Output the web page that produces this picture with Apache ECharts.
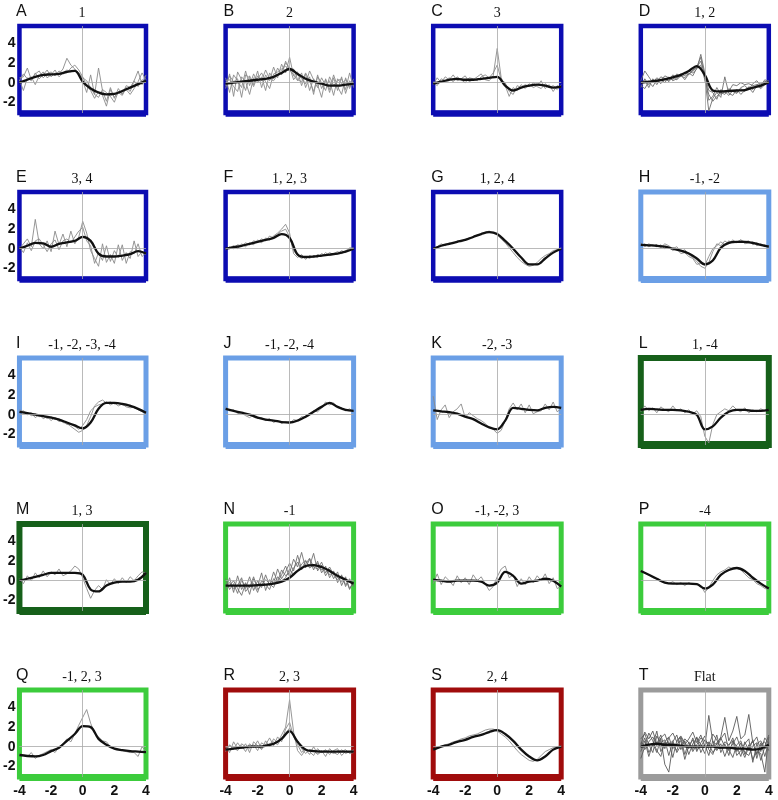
<!DOCTYPE html>
<html><head><meta charset="utf-8">
<script src="https://cdn.jsdelivr.net/npm/echarts@6/dist/echarts.min.js"></script>
<style>html,body{margin:0;padding:0;background:#fff}#chart{width:778px;height:800px}</style>
</head><body><div id="chart"></div>
<script>
// sample positions
const xHalf = [-4,-3.5,-3,-2.5,-2,-1.5,-1,-0.5,0,0.5,1,1.5,2,2.5,3,3.5,4];
const xQuarter = [-4,-3.75,-3.5,-3.25,-3,-2.75,-2.5,-2.25,-2,-1.75,-1.5,-1.25,-1,-0.75,-0.5,-0.25,0,0.25,0.5,0.75,1,1.25,1.5,1.75,2,2.25,2.5,2.75,3,3.25,3.5,3.75,4];
const xTickLabels = [-4,-2,0,2,4];
const yTickLabels = [-2,0,2,4];
const panelLetters = ['A','B','C','D','E','F','G','H','I','J','K','L','M','N','O','P','Q','R','S','T'];
const panelTitles = ['1','2','3','1, 2','3, 4','1, 2, 3','1, 2, 4','-1, -2','-1, -2, -3, -4','-1, -2, -4','-2, -3','1, -4','1, 3','-1','-1, -2, 3','-4','-1, 2, 3','2, 3','2, 4','Flat'];

// mean (thick) curves
const smoothA = [0,0.3,0.6,0.8,0.85,0.9,1.1,1.2,0.1,-0.6,-1.0,-1.2,-1.15,-0.85,-0.5,-0.15,0.2];
const smoothB = [-0.1,0,0.1,0.2,0.3,0.4,0.6,1.0,1.4,0.9,0.4,0.1,-0.1,-0.3,-0.3,-0.2,-0.1];
const smoothC = [-0.1,0.1,0.3,0.4,0.3,0.3,0.4,0.5,0.6,-0.3,-0.8,-0.5,-0.3,-0.2,-0.3,-0.5,-0.4];
const smoothD = [0,0.1,0.2,0.35,0.55,0.8,1.2,1.7,0.8,-0.8,-0.9,-0.85,-0.8,-0.75,-0.5,-0.3,0.05];
const smoothE = [0,0.3,0.6,0.55,0.2,0.5,0.65,0.8,1.2,0.8,-0.5,-0.8,-0.8,-0.7,-0.55,-0.25,-0.5];
const smoothF = [0,0.15,0.3,0.5,0.7,0.9,1.1,1.5,1.1,-0.6,-0.85,-0.8,-0.7,-0.6,-0.5,-0.3,0];
const smoothG = [0,0.3,0.5,0.7,0.9,1.2,1.5,1.7,1.5,0.8,0,-0.9,-1.6,-1.6,-1.0,-0.4,0];
const smoothH = [0.4,0.35,0.3,0.2,0,-0.2,-0.5,-1.0,-1.6,-1.2,0.1,0.6,0.7,0.7,0.6,0.4,0.2];
const smoothI = [0.3,0.15,0,-0.15,-0.3,-0.5,-0.8,-1.1,-1.4,-0.8,0.6,1.2,1.2,1.1,0.9,0.6,0.2];
const smoothJ = [0.6,0.4,0.2,0,-0.3,-0.5,-0.6,-0.75,-0.8,-0.6,-0.2,0.3,0.8,1.2,0.8,0.5,0.4];
const smoothK = [0.45,0.35,0.25,0.1,-0.2,-0.45,-0.9,-1.3,-1.5,-0.6,0.7,0.6,0.5,0.45,0.7,0.8,0.7];
const smoothL = [0.5,0.6,0.55,0.5,0.5,0.45,0.3,0.0,-1.5,-1.2,-0.3,0.3,0.5,0.5,0.4,0.4,0.5];
const smoothM = [0,0.2,0.4,0.6,0.8,0.8,0.8,0.8,0.6,-0.9,-1.1,-0.5,-0.2,-0.1,-0.1,0.1,0.8];
const smoothN = [-0.5,-0.5,-0.5,-0.5,-0.45,-0.4,-0.3,-0.1,0.3,1.0,1.5,1.6,1.4,1.0,0.5,0.1,-0.3];
const smoothO = [0.1,0,-0.1,0,0,0,-0.1,-0.5,-0.2,0.9,0.5,-0.3,-0.1,0,0.2,0,-0.6];
const smoothP = [1.0,0.6,0.2,-0.2,-0.3,-0.3,-0.3,-0.35,-0.8,-0.4,0.6,1.1,1.3,1.0,0.3,-0.3,-0.8];
const smoothQ = [-0.85,-0.95,-1.0,-0.85,-0.45,-0.1,0.6,1.3,2.1,2.0,0.8,0.2,-0.2,-0.35,-0.45,-0.5,-0.55];
const smoothR = [-0.3,-0.2,-0.1,0,0,0.1,0.3,0.8,1.6,0.5,-0.3,-0.45,-0.5,-0.5,-0.5,-0.5,-0.5];
const smoothS = [-0.3,0,0.2,0.5,0.7,1.0,1.2,1.5,1.7,1.3,0.6,-0.3,-1.0,-1.4,-1.0,-0.3,0];
const smoothT = [0,0.2,0.3,0.2,0.2,0.1,0,0,0,0,-0.1,-0.1,-0.2,-0.2,-0.3,-0.2,0.2];

// individual (thin) traces
const tracesA = [
 [0.3,-0.8,0.5,0.2,1.0,0.4,0.8,1.3,0.6,1.0,0.9,1.4,2.5,1.8,1.4,1.0,0.2,-1.0,0.8,-1.2,1.5,-0.8,-1.9,-0.5,-1.6,-0.6,-1.2,-0.3,-0.5,0.2,1.2,-0.2,0.8],
 [0.5,0.6,1.5,0.3,0.9,1.2,0.5,0.9,1.1,0.7,1.2,0.9,1.0,1.5,1.8,1.3,0.6,-0.3,-0.8,-1.6,-0.9,-1.3,-2.4,-0.7,-1.5,-1.0,-1.3,-0.5,-0.9,0.2,-0.4,0.3,0.1],
 [0.2,0.9,0.4,0.6,-0.2,0.7,1.1,0.5,0.8,1.3,0.6,1.0,1.3,1.1,1.3,1.0,0.5,0.2,-0.5,-1.2,-1.5,-0.7,-1.0,-1.4,-2.0,-0.9,-1.1,-0.7,-1.2,-0.6,0.1,1.0,0.3]];
const tracesB = [
 [0.5,-1.0,0.8,0.2,-0.5,1.2,-0.3,0.9,0.0,0.6,-0.8,1.0,0.4,1.5,0.8,2.2,1.3,0.8,0.2,1.0,-0.5,0.6,-1.2,0.8,-0.6,0.3,-1.0,0.5,-0.8,0.6,-1.1,0.2,-0.3],
 [-0.6,0.9,-1.4,1.1,0.3,-0.8,0.7,-0.2,1.2,-0.5,0.8,0.2,1.6,0.5,1.9,1.0,2.6,0.7,1.1,-0.3,0.9,-0.8,0.4,-0.2,-1.5,0.4,-0.7,0.8,-0.4,-1.2,0.5,-0.6,0.4],
 [0.2,0.3,-0.4,-0.9,0.6,0.1,-1.2,0.5,0.4,1.0,0.1,-0.6,0.9,1.1,1.4,1.7,1.2,1.4,0.3,0.1,1.0,0.2,-0.9,0.6,0.0,-0.8,0.6,-0.3,0.2,0.4,-0.7,1.0,-0.5],
 [-0.3,0.7,0.1,0.4,-1.5,0.8,0.5,-0.4,0.7,0.2,1.3,0.4,0.2,0.8,1.2,2.0,1.6,0.3,0.9,0.4,-0.1,1.2,0.3,-0.5,0.5,-0.3,0.2,-1.3,0.4,-0.1,0.3,-0.4,0.1]];
const tracesC = [
 [-0.2,0.5,0.0,0.6,0.3,0.8,0.2,0.4,0.7,0.1,0.3,0.6,0.9,0.3,0.2,0.7,3.5,0.5,-0.3,-1.4,-0.5,-0.8,-0.2,-0.6,-0.1,-0.5,-0.3,0.2,-0.6,-0.2,-0.9,-0.3,-0.5],
 [0.1,-0.3,0.4,0.2,0.5,0.1,0.6,0.3,0.0,0.5,0.4,0.2,0.6,0.8,0.5,1.0,1.8,0.3,0.0,-0.9,-1.2,-0.3,-0.5,-0.2,-0.4,0.0,-0.4,-0.6,-0.1,-0.5,-0.3,-0.7,-0.2]];
const tracesD = [
 [-0.5,0.4,-0.2,0.3,0.1,0.6,0.4,0.2,0.8,0.5,0.9,0.7,1.2,1.0,1.4,2.9,1.0,-1.8,-1.4,-0.5,-1.2,-0.9,-1.3,-0.8,-1.0,-0.6,-0.9,-0.4,-0.7,-0.2,-0.5,0.1,0.0],
 [0.2,1.2,0.6,0.0,0.5,0.2,0.7,0.5,0.3,0.9,0.6,1.1,0.8,1.3,1.6,2.6,0.5,-2.9,-1.6,-1.0,-1.5,0.6,-1.1,-1.3,-0.7,-1.2,-0.8,-0.5,-1.0,-0.3,-0.6,-0.2,0.0],
 [-0.3,-0.6,0.1,-0.4,0.3,-0.1,0.5,0.1,0.6,0.3,0.7,0.5,1.0,0.7,1.5,1.8,0.3,-1.2,-1.9,-1.4,-1.0,-1.2,-0.6,-0.9,-1.1,-0.5,-0.3,-0.7,-0.1,0.2,-0.3,0.3,0.1],
 [0.0,0.3,-0.5,0.4,-0.2,0.4,0.0,0.6,0.2,0.4,0.8,0.3,0.9,1.2,1.6,2.2,0.8,-0.8,-1.0,-1.7,-0.7,-1.0,-0.9,-0.2,-0.3,0.0,-0.2,-0.1,-0.3,-0.2,-0.1,0.1,0.2]];
const tracesE = [
 [0.0,0.5,1.0,0.2,3.0,0.5,0.0,0.8,-0.3,1.8,0.4,1.5,0.2,1.8,0.5,1.2,2.8,1.6,-0.2,-1.0,-1.8,0.5,-1.4,-0.6,-1.5,0.4,-1.2,-0.4,-1.0,0.8,-0.8,-0.3,-0.6],
 [0.2,-0.4,0.6,-0.2,0.8,1.0,0.4,-0.3,0.5,0.9,-0.1,0.8,1.0,0.6,1.2,1.8,2.2,0.8,0.3,-1.5,-0.4,-1.2,0.3,-1.3,-0.2,-0.9,0.4,-1.5,-0.3,-0.5,0.5,-0.8,-0.4]];
const tracesF = [
 [0.0,0.1,0.3,0.0,0.5,0.2,0.6,0.4,0.9,0.6,1.1,0.9,1.3,1.6,2.0,2.5,1.6,-0.5,-0.9,-0.6,-1.1,-0.7,-0.9,-0.6,-0.8,-0.4,-0.7,-0.5,-0.3,-0.5,-0.2,0.0,0.1],
 [-0.1,0.2,0.0,0.4,0.3,0.6,0.4,0.8,0.7,1.0,0.8,1.3,1.1,1.5,1.8,2.0,1.2,-0.2,-0.7,-1.0,-0.8,-1.0,-0.7,-0.9,-0.5,-0.7,-0.4,-0.6,-0.5,-0.2,-0.4,0.1,0.0]];
const tracesG = [
 [0.0,0.2,0.5,0.3,0.6,0.5,0.8,0.7,0.9,1.1,1.2,1.4,1.5,1.7,1.8,1.6,1.4,1.0,0.6,0.1,-0.4,-0.9,-1.3,-1.6,-1.8,-1.7,-1.4,-1.0,-0.7,-0.5,-0.2,-0.1,0.1]];
const tracesH = [
 [0.6,0.2,0.5,0.3,0.4,0.1,0.5,0.3,0.0,0.2,-0.3,-0.1,-0.6,-0.9,-1.3,-1.8,-2.0,-1.4,-0.3,0.5,0.3,0.8,0.5,0.9,0.6,0.9,0.7,0.8,0.4,0.6,0.3,0.4,0.1],
 [0.3,0.5,0.2,0.4,0.2,0.4,0.0,0.2,-0.2,0.0,-0.5,-0.4,-0.8,-1.0,-1.6,-1.5,-1.7,-0.8,0.0,0.3,0.7,0.4,0.8,0.6,0.7,0.9,0.5,0.6,0.7,0.3,0.5,0.2,0.3]];
const tracesI = [
 [0.5,0.3,0.2,-0.1,0.1,-0.2,-0.1,-0.4,-0.2,-0.5,-0.4,-0.8,-0.9,-1.2,-1.5,-1.8,-1.6,-1.1,-0.2,0.9,1.3,1.5,1.2,1.3,1.1,1.2,1.0,0.9,1.0,0.7,0.6,0.4,0.2],
 [0.2,0.4,0.0,0.2,-0.3,0.0,-0.4,-0.2,-0.6,-0.3,-0.7,-0.6,-1.0,-1.0,-1.2,-1.5,-1.1,-0.5,0.4,0.8,1.0,1.1,1.3,1.0,1.2,0.9,1.1,0.8,0.7,0.8,0.5,0.3,0.1]];
const tracesJ = [
 [0.8,0.4,0.5,0.1,0.2,-0.1,-0.3,0.0,-0.4,-0.3,-0.6,-0.4,-0.8,-0.6,-0.9,-0.7,-0.9,-0.5,-0.6,-0.2,-0.3,0.1,0.4,0.3,0.7,1.3,1.0,1.2,0.8,0.7,0.4,0.6,0.3]];
const tracesK = [
 [1.9,-0.5,0.5,1.0,-0.3,0.3,0.6,1.1,-0.3,0.2,-0.1,-0.4,-0.6,-0.9,-1.3,-1.5,-1.9,-1.6,-0.6,0.6,1.2,0.5,1.1,0.2,1.0,0.1,0.3,0.4,1.1,0.5,1.3,0.3,0.6]];
const tracesL = [
 [0.3,0.9,0.4,0.7,0.2,0.8,0.5,0.3,0.9,0.4,0.6,0.2,0.5,0.1,0.4,-0.2,-2.2,-2.9,-1.0,0.0,0.3,0.6,0.4,0.9,0.5,0.3,0.7,0.2,0.5,0.3,0.6,0.4,0.5]];
const tracesM = [
 [0.2,-0.3,0.5,0.0,0.8,0.3,1.0,0.4,0.9,0.6,1.2,0.5,0.7,1.0,1.5,1.2,0.3,-0.8,-1.8,-1.0,-0.5,-0.9,0.1,-0.4,0.2,-0.3,0.3,-0.2,0.4,0.0,0.5,0.9,0.8]];
const tracesN = [
 [-0.8,0.3,-1.2,0.5,-0.9,-0.2,-1.4,0.2,-0.6,0.8,-1.0,0.1,-0.3,1.2,0.2,0.9,1.8,1.0,2.6,1.2,2.0,1.5,2.8,1.0,1.6,0.5,1.2,0.2,0.9,-0.5,0.4,-0.8,-0.2],
 [0.2,-0.9,-0.3,-1.3,0.1,-0.8,0.4,-1.0,0.0,-0.7,0.6,-0.5,0.9,-0.1,1.1,0.5,0.8,2.2,1.4,2.9,1.3,2.2,1.1,2.0,0.8,1.5,0.3,1.0,-0.2,0.6,-0.6,0.2,-0.5],
 [-0.4,-0.2,-0.8,-0.5,0.3,-1.1,-0.6,-0.3,-1.2,0.0,-0.4,-0.9,0.2,-0.2,0.6,1.5,0.4,1.3,1.9,1.1,1.7,2.3,1.4,1.2,1.9,0.8,1.4,0.6,0.1,0.5,-0.4,0.0,-0.6],
 [-1.0,-0.5,0.0,-0.8,-1.5,-0.3,-0.7,0.4,-0.9,-0.5,0.1,-0.3,-0.7,0.4,0.0,0.3,1.2,0.6,1.0,1.7,2.1,1.3,1.6,1.8,1.1,1.3,0.6,0.9,0.3,-0.1,0.2,-0.9,0.0]];
const tracesO = [
 [-0.3,0.7,-0.4,0.4,0.0,-0.5,0.5,-0.2,0.3,-0.4,0.6,0.0,0.4,-0.3,-1.0,-0.6,0.4,1.2,1.5,0.3,0.6,-0.6,0.2,-0.4,0.4,-0.2,0.5,0.0,0.7,-0.3,0.3,-0.8,-0.6]];
const tracesP = [
 [1.1,0.8,0.6,0.3,0.2,0.0,-0.2,-0.3,-0.1,-0.4,-0.2,-0.5,-0.2,-0.4,-0.3,-0.5,-1.2,-0.7,0.0,0.6,0.9,1.1,1.4,1.2,1.3,1.1,0.7,0.3,0.1,-0.3,-0.5,-0.8,-0.9]];
const tracesQ = [
 [-0.8,-0.9,-1.0,-0.6,-1.2,-0.9,-0.7,-0.5,-0.3,-0.6,0.0,0.3,0.8,0.5,1.3,2.2,3.0,3.8,2.4,1.4,1.0,0.6,0.5,0.0,-0.2,-0.3,-0.4,-0.5,-0.6,-0.6,-1.0,0.0,-0.5]];
const tracesR = [
 [-0.5,0.2,-0.3,0.4,-0.2,0.3,-0.6,0.5,0.1,-0.3,0.6,0.0,0.8,0.4,1.2,2.0,4.8,1.5,-0.4,-0.9,-0.3,-0.8,0.0,-0.7,-0.4,-1.0,-0.2,-0.6,-0.8,-0.3,-0.7,-0.5,-0.4],
 [0.0,-0.6,0.5,-0.2,0.1,-0.5,0.3,-0.1,0.6,-0.2,0.2,0.9,0.1,1.0,0.5,1.8,2.5,1.0,0.2,-0.6,-0.2,-0.5,-0.9,-0.2,-0.6,-0.3,-0.8,-0.4,-0.2,-0.9,-0.5,-0.6,-0.3],
 [-0.3,0.1,-0.1,-0.4,0.3,0.0,-0.2,0.2,-0.4,0.4,0.1,0.3,0.5,0.2,0.9,1.4,1.9,1.2,0.6,-0.2,-0.7,-0.3,-0.4,-0.8,-0.5,-0.4,-0.5,-0.7,-0.4,-0.5,-0.3,-0.7,-0.6]];
const tracesS = [
 [-0.3,-0.2,0.0,0.2,0.3,0.5,0.6,0.8,0.9,1.1,1.2,1.3,1.5,1.7,1.8,1.8,1.6,1.3,1.0,0.6,0.1,-0.4,-0.8,-1.1,-1.4,-1.5,-1.3,-0.9,-0.5,-0.3,-0.1,0.0,0.1]];
const tracesT = [
 [0.2,1.5,0.8,1.6,0.3,1.2,-0.2,0.9,1.4,0.5,1.0,0.2,0.8,1.5,0.4,1.2,0.0,3.2,0.5,0.2,1.0,3.0,0.6,1.6,3.1,0.8,1.2,3.3,0.4,1.0,-0.5,0.9,0.3],
 [-0.5,0.6,-1.0,0.3,-0.6,0.8,-1.8,-2.6,0.2,-0.4,0.9,-0.8,0.5,-0.3,1.0,-0.6,0.2,-0.9,0.6,-0.4,0.3,-1.0,0.1,0.9,-0.5,0.4,-0.8,0.2,-1.3,-0.5,-0.7,-2.6,1.0],
 [0.8,1.3,0.2,-0.6,1.1,0.4,0.7,-0.9,0.5,1.2,-0.3,0.6,-0.8,0.3,0.9,0.2,-0.7,0.5,0.0,1.2,-0.6,0.3,-0.9,0.6,0.0,-1.0,0.5,-0.4,0.7,-1.2,0.2,0.5,-0.4],
 [-1.2,0.0,1.4,0.6,-0.4,-1.0,0.5,1.0,-0.2,0.3,0.6,-1.3,0.1,0.7,-0.5,0.4,1.1,-0.3,-0.8,0.4,0.9,0.0,-0.3,-1.1,0.2,0.6,-0.6,-0.9,0.1,0.4,-1.4,0.0,1.2],
 [0.4,-0.3,0.5,1.0,0.1,0.9,1.3,0.2,0.6,-0.6,0.1,0.8,0.4,-0.5,0.2,0.9,0.6,0.1,1.3,0.7,-0.2,0.5,0.2,0.6,-0.9,-0.4,0.3,0.8,-1.6,0.3,0.6,-0.2,0.0],
 [-0.1,0.9,-0.6,0.2,1.6,-0.5,0.3,0.5,-1.1,0.6,1.1,0.4,-0.2,0.9,-0.3,0.0,0.7,0.3,-0.6,-0.1,0.8,1.4,-0.4,0.3,1.0,-0.2,-1.1,0.0,0.6,-0.8,0.4,-1.0,0.5]];

const smoothSets = [smoothA,smoothB,smoothC,smoothD,smoothE,smoothF,smoothG,smoothH,smoothI,smoothJ,smoothK,smoothL,smoothM,smoothN,smoothO,smoothP,smoothQ,smoothR,smoothS,smoothT];
const traceSets = [tracesA,tracesB,tracesC,tracesD,tracesE,tracesF,tracesG,tracesH,tracesI,tracesJ,tracesK,tracesL,tracesM,tracesN,tracesO,tracesP,tracesQ,tracesR,tracesS,tracesT];

// styles
const DB = '#0c0cb2', LB = '#6b9fe6', DG = '#16601a', BG = '#3ccc3c', DR = '#a00c0c', GR = '#9b9b9b';
const frameColors = [DB,DB,DB,DB, DB,DB,DB,LB, LB,LB,LB,DG, DG,BG,BG,BG, BG,DR,DR,GR];
const frameWidths = [4.5,4.5,4.5,4.5, 4.5,4.5,4.5,5, 5,5,5,6, 6,5,5,5, 5,5,5,5];
const traceColors = ['#8a8a8a','#8a8a8a','#8a8a8a','#6e6e6e', '#8a8a8a','#8a8a8a','#8a8a8a','#8a8a8a',
  '#8a8a8a','#8a8a8a','#8a8a8a','#8a8a8a', '#8a8a8a','#707070','#8a8a8a','#8a8a8a', '#8a8a8a','#8a8a8a','#8a8a8a','#5a5a5a'];

const chart = echarts.init(document.getElementById('chart'), null, {renderer: 'canvas'});
const grids = [], xAxes = [], yAxes = [], series = [], graphics = [];
const labelFont = 'Liberation Sans, Arial, sans-serif';
for (let i = 0; i < 20; i++) {
  const r = Math.floor(i / 4), c = i % 4;
  const left = 18 + c * 207.6, top = 26 + r * 166, w = 128, h = 87;
  grids.push({left: left, top: top, width: w, height: h, show: true,
    borderColor: frameColors[i], borderWidth: frameWidths[i], backgroundColor: '#fff'});
  xAxes.push({type: 'value', gridIndex: i, min: -4, max: 4, interval: 2,
    axisLine: {show: true, onZero: false, lineStyle: {color: frameColors[i], width: frameWidths[i] + 2, cap: 'butt'}},
    axisTick: {show: false}, splitLine: {show: false},
    axisLabel: {show: r === 4, customValues: xTickLabels, margin: 7, fontSize: 14, fontWeight: 'bold',
      color: '#111', fontFamily: labelFont}});
  yAxes.push({type: 'value', gridIndex: i, min: -3.1, max: 5.8,
    axisLine: {show: false}, axisTick: {show: false}, splitLine: {show: false},
    axisLabel: {show: c === 0, customValues: yTickLabels, margin: 4, fontSize: 14, fontWeight: 'bold',
      color: '#111', fontFamily: labelFont}});
  series.push({type: 'line', xAxisIndex: i, yAxisIndex: i, data: [], silent: true, z: 1,
    markLine: {silent: true, symbol: 'none', animation: false, label: {show: false},
      lineStyle: {color: '#a8a8a8', width: 0.8, type: 'solid'},
      data: [{xAxis: 0}, {yAxis: 0}]}});
  traceSets[i].forEach(function (tr) {
    series.push({type: 'line', xAxisIndex: i, yAxisIndex: i, silent: true, z: 2,
      data: tr.map(function (v, k) { return [xQuarter[k], v]; }),
      showSymbol: false, symbol: 'none',
      lineStyle: {color: traceColors[i], width: 0.9}});
  });
  series.push({type: 'line', xAxisIndex: i, yAxisIndex: i, silent: true, z: 3,
    data: smoothSets[i].map(function (v, k) { return [xHalf[k], v]; }),
    smooth: 0.35, showSymbol: false, symbol: 'none',
    lineStyle: {color: '#111', width: 2.3}});
  graphics.push({type: 'text', x: left - 2, y: top - 14, silent: true,
    style: {text: panelLetters[i], fill: '#111', font: '16px "Liberation Sans", Arial, sans-serif',
      align: 'left', textAlign: 'left', verticalAlign: 'middle', textVerticalAlign: 'middle'}});
  graphics.push({type: 'text', x: left + w / 2, y: top - 13, silent: true,
    style: {text: panelTitles[i], fill: '#111', font: '14px "Liberation Serif", "Times New Roman", serif',
      align: 'center', textAlign: 'center', verticalAlign: 'middle', textVerticalAlign: 'middle'}});
}
chart.setOption({animation: false, backgroundColor: '#fff', grid: grids, xAxis: xAxes, yAxis: yAxes,
  series: series, graphic: {elements: graphics}});
</script></body></html>
